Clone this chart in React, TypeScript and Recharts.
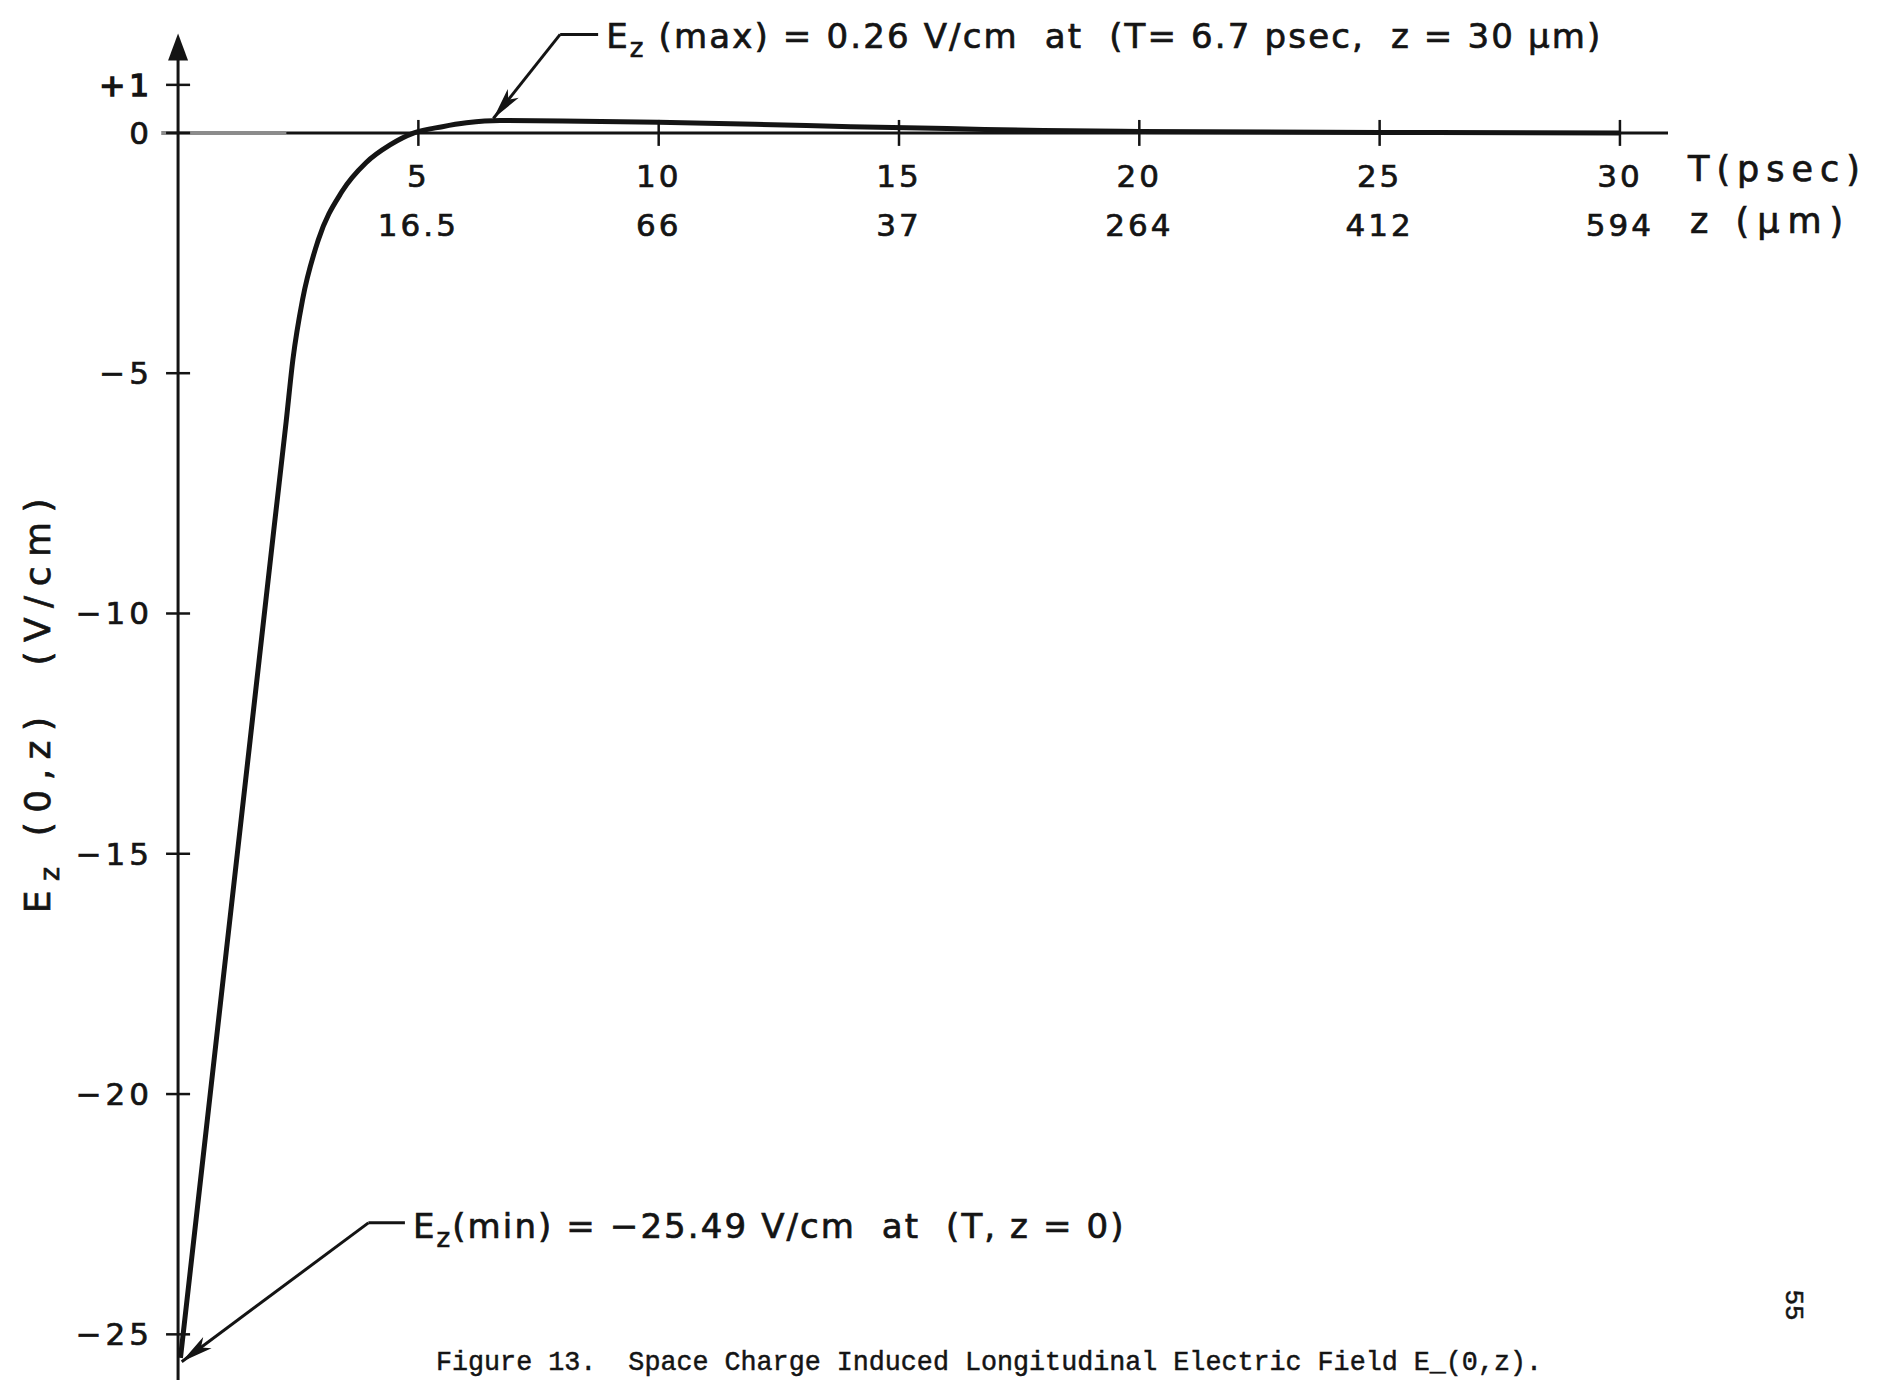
import React from 'react';
import { LineChart, Line, XAxis, YAxis, ReferenceLine, ReferenceDot } from 'recharts';

// ---- data ----
const T_PSEC = [0.05, 0.5, 1.0, 1.5, 2.0, 2.25, 2.39, 2.59, 2.92, 3.41, 3.91, 4.41, 4.91, 5.5, 6.0, 6.7, 8, 10, 12, 14, 16, 18, 20, 25, 30];
const EZ_VCM = [-25.49, -21.5, -17.06, -12.63, -8.19, -6.0, -4.71, -3.47, -2.22, -1.22, -0.62, -0.25, 0, 0.13, 0.21, 0.26, 0.25, 0.22, 0.18, 0.13, 0.09, 0.05, 0.03, 0.01, 0.0];

const X_TICKS = [5, 10, 15, 20, 25, 30];
const Z_LABELS = ['16.5', '66', '37', '264', '412', '594'];
const Y_TICKS = [1, 0, -5, -10, -15, -20, -25];
const Y_TICK_LABELS = ['+1', '0', '−5', '−10', '−15', '−20', '−25'];

const MAX_NOTE = { tipT: 6.56, tipE: 0.3, elbowT: 7.95, elbowE: 2.05, endT: 8.74 };
const MIN_NOTE = { tipT: 0.076, tipE: -25.57, elbowT: 3.96, elbowE: -22.68, endT: 4.72 };

const data = T_PSEC.map((t, i) => ({ T: t, E: EZ_VCM[i] }));

// ---- styles ----
const W = 1878;
const H = 1380;
const INK = '#141414';
const FONT = '"DejaVu Sans", sans-serif';
const LABEL_SIZE = 31;
const BOLDEN = { stroke: INK, strokeWidth: 0.7 };

const ArrowShape = (props: any) => {
  const { x1, y1, x2, y2 } = props;
  const ang = Math.atan2(y2 - y1, x2 - x1);
  const L = 32;
  const hw = 7;
  const bx = x2 - L * Math.cos(ang);
  const by = y2 - L * Math.sin(ang);
  const nx = -Math.sin(ang);
  const ny = Math.cos(ang);
  const pts = `${x2},${y2} ${bx + hw * nx},${by + hw * ny} ${x2 - (L * 0.75) * Math.cos(ang)},${y2 - (L * 0.75) * Math.sin(ang)} ${bx - hw * nx},${by - hw * ny}`;
  return (
    <g>
      <line x1={x1} y1={y1} x2={x2} y2={y2} stroke={INK} strokeWidth={3} />
      <polygon points={pts} fill={INK} />
    </g>
  );
};

const UpArrowHead = (props: any) => {
  const { cx, cy } = props;
  return <polygon points={`${cx},${cy} ${cx - 10},${cy + 27} ${cx + 10},${cy + 27}`} fill={INK} />;
};

export default function App() {
  const xTickMarks = X_TICKS.map((t) => (
    <ReferenceLine
      key={`xt${t}`}
      segment={[{ x: t, y: 0.27 }, { x: t, y: -0.27 }]}
      stroke={INK}
      strokeWidth={2.5}
      ifOverflow="visible"
    />
  ));
  const xTickLabels = X_TICKS.map((t, i) => (
    <ReferenceDot
      key={`xl${t}`}
      x={t}
      y={0}
      r={0}
      ifOverflow="visible"
      shape={(p: any) => (
        <g fontFamily={FONT} fontSize={LABEL_SIZE} fill={INK} letterSpacing={3} textAnchor="middle" {...BOLDEN}>
          <text x={p.cx} y={p.cy + 54}>{String(t)}</text>
          <text x={p.cx} y={p.cy + 103}>{Z_LABELS[i]}</text>
        </g>
      )}
    />
  ));
  const yTickMarks = Y_TICKS.map((v) => (
    <ReferenceLine
      key={`yt${v}`}
      segment={[{ x: -0.25, y: v }, { x: 0.25, y: v }]}
      stroke={INK}
      strokeWidth={2.5}
      ifOverflow="visible"
    />
  ));
  const yTickLabels = Y_TICKS.map((v, i) => (
    <ReferenceDot
      key={`yl${v}`}
      x={0}
      y={v}
      r={0}
      ifOverflow="visible"
      shape={(p: any) => (
        <text
          x={p.cx - 25}
          y={p.cy + 11}
          fontFamily={FONT}
          fontSize={LABEL_SIZE}
          fill={INK}
          letterSpacing={4}
          textAnchor="end"
          {...BOLDEN}
          strokeWidth={v === 1 ? 1.6 : 0.7}
        >
          {Y_TICK_LABELS[i]}
        </text>
      )}
    />
  ));

  return (
    <div style={{ position: 'absolute', left: 0, top: 0, width: W, height: H, background: '#fff' }}>
      <LineChart width={W} height={H} data={data} margin={{ top: 32, right: 210, bottom: 0, left: 130 }}>
        <XAxis dataKey="T" type="number" domain={[-1, 31]} allowDataOverflow hide />
        <YAxis type="number" domain={[-25.95, 2.1]} allowDataOverflow hide />

        {/* axes drawn at the origin */}
        <ReferenceLine segment={[{ x: -0.35, y: 0 }, { x: 2.25, y: 0 }]} stroke="#8c8c8c" strokeWidth={4} ifOverflow="visible" />
        <ReferenceLine segment={[{ x: 2.25, y: 0 }, { x: 31, y: 0 }]} stroke={INK} strokeWidth={3} ifOverflow="visible" />
        <ReferenceLine segment={[{ x: 0, y: -25.95 }, { x: 0, y: 1.7 }]} stroke={INK} strokeWidth={3} ifOverflow="visible" />
        <ReferenceDot x={0} y={2.07} r={0} ifOverflow="visible" shape={UpArrowHead} />
        {xTickMarks}
        {yTickMarks}
        {xTickLabels}
        {yTickLabels}
        <ReferenceDot
          x={31}
          y={0}
          r={0}
          ifOverflow="visible"
          shape={(p: any) => (
            <g fontFamily={FONT} fontSize={35} fill={INK} letterSpacing={7} {...BOLDEN}>
              <text x={p.cx + 20} y={p.cy + 48}>T(psec)</text>
              <text x={p.cx + 22} y={p.cy + 100} letterSpacing={8} style={{ whiteSpace: 'pre' }}>z (μm)</text>
            </g>
          )}
        />

        <Line dataKey="E" type="monotone" stroke={INK} strokeWidth={5} dot={false} isAnimationActive={false} />

        {/* annotation: maximum */}
        <ReferenceLine
          segment={[{ x: MAX_NOTE.elbowT, y: MAX_NOTE.elbowE }, { x: MAX_NOTE.tipT, y: MAX_NOTE.tipE }]}
          ifOverflow="visible"
          shape={ArrowShape}
        />
        <ReferenceLine
          segment={[{ x: MAX_NOTE.elbowT, y: MAX_NOTE.elbowE }, { x: MAX_NOTE.endT, y: MAX_NOTE.elbowE }]}
          stroke={INK}
          strokeWidth={3}
          ifOverflow="visible"
        />
        <ReferenceDot
          x={MAX_NOTE.endT}
          y={MAX_NOTE.elbowE}
          r={0}
          ifOverflow="visible"
          shape={(p: any) => (
            <text x={p.cx + 8} y={p.cy + 14} fontFamily={FONT} fontSize={34} fill={INK} letterSpacing={2.15} style={{ whiteSpace: 'pre' }} {...BOLDEN}>
              <tspan>E</tspan>
              <tspan dy={9} fontSize={26}>z</tspan>
              <tspan dy={-9}>{' (max) = 0.26 V/cm  at  (T= 6.7 psec,  z = 30 μm)'}</tspan>
            </text>
          )}
        />

        {/* annotation: minimum */}
        <ReferenceLine
          segment={[{ x: MIN_NOTE.elbowT, y: MIN_NOTE.elbowE }, { x: MIN_NOTE.tipT, y: MIN_NOTE.tipE }]}
          ifOverflow="visible"
          shape={ArrowShape}
        />
        <ReferenceLine
          segment={[{ x: MIN_NOTE.elbowT, y: MIN_NOTE.elbowE }, { x: MIN_NOTE.endT, y: MIN_NOTE.elbowE }]}
          stroke={INK}
          strokeWidth={3}
          ifOverflow="visible"
        />
        <ReferenceDot
          x={MIN_NOTE.endT}
          y={MIN_NOTE.elbowE}
          r={0}
          ifOverflow="visible"
          shape={(p: any) => (
            <text x={p.cx + 8} y={p.cy + 15} fontFamily={FONT} fontSize={34} fill={INK} letterSpacing={2.1} style={{ whiteSpace: 'pre' }} {...BOLDEN}>
              <tspan>E</tspan>
              <tspan dy={9} fontSize={26}>z</tspan>
              <tspan dy={-9}>{'(min) = −25.49 V/cm  at  (T, z = 0)'}</tspan>
            </text>
          )}
        />
      </LineChart>

      {/* static page texts */}
      <svg width={W} height={H} style={{ position: 'absolute', left: 0, top: 0, pointerEvents: 'none' }}>
        <text
          transform="translate(50,701) rotate(-90)"
          textAnchor="middle"
          fontFamily={FONT}
          fontSize={36}
          fill={INK}
          letterSpacing={9.5}
          style={{ whiteSpace: 'pre' }}
          {...BOLDEN}
        >
          <tspan>E</tspan>
          <tspan dy={9} fontSize={27}>z</tspan>
          <tspan dy={-9}>{' (0,z)  (V/cm)'}</tspan>
        </text>
        <text
          x={436}
          y={1370}
          fontFamily='"Liberation Mono", monospace'
          fontSize={28}
          fill={INK}
          stroke={INK}
          strokeWidth={0.5}
          textLength={1106}
          lengthAdjust="spacingAndGlyphs"
          style={{ whiteSpace: 'pre' }}
        >
          {'Figure 13.  Space Charge Induced Longitudinal Electric Field E_(0,z).'}
        </text>
        <text
          transform="translate(1786,1305) rotate(90)"
          textAnchor="middle"
          fontFamily='"Liberation Mono", monospace'
          fontSize={26}
          fill={INK}
          stroke={INK}
          strokeWidth={0.5}
        >
          55
        </text>
      </svg>
    </div>
  );
}
